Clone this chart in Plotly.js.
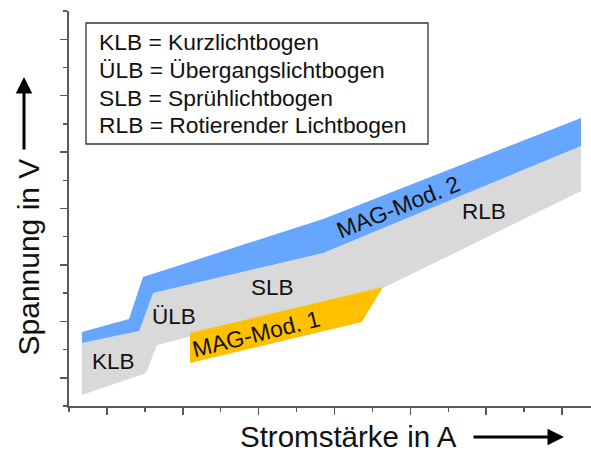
<!DOCTYPE html>
<html>
<head>
<meta charset="utf-8">
<script src="https://cdn.plot.ly/plotly-3.0.1.min.js"></script>
<style>
  html, body { margin: 0; padding: 0; background: #fff; }
  #chart { width: 591px; height: 453px; }
</style>
</head>
<body>
<div id="chart"></div>
<script>
// ---- Data (schematic regions in axis units) ----
// Grey band: all arc types (KLB, ÜLB, SLB, RLB)
const greyX = [0.34, 1.85, 2.22, 6.70, 13.50, 13.50, 8.28, 2.32, 2.03, 0.34];
const greyY = [2.23, 2.66, 4.01, 5.42, 9.22, 7.62, 4.18, 2.16, 1.17, 0.39];
// Blue band: MAG-Mod. 2
const blueX = [0.34, 1.58, 1.95, 6.70, 13.50, 13.50, 6.70, 2.22, 1.85, 0.34];
const blueY = [2.62, 3.08, 4.57, 6.63, 10.21, 9.22, 5.42, 4.01, 2.66, 2.23];
// Orange band: MAG-Mod. 1
const orangeX = [3.19, 8.28, 7.72, 3.19];
const orangeY = [2.59, 4.22, 2.98, 1.52];

const regionLabels = ['KLB', 'ÜLB', 'SLB', 'RLB'];
const modLabels = ['MAG-Mod. 1', 'MAG-Mod. 2'];
const legendLines = ['KLB = Kurzlichtbogen', 'ÜLB = Übergangslichtbogen',
                     'SLB = Sprühlichtbogen', 'RLB = Rotierender Lichtbogen'];
const xTitle = 'Stromstärke in A';
const yTitle = 'Spannung in V';

// ---- Layout geometry ----
const W = 591, H = 453;
const M = {l: 69, r: 0, t: 11, b: 47};
const PW = W - M.l - M.r, PH = H - M.t - M.b;
const px = x => (x - M.l) / PW;          // pixel -> paper x
const py = y => (H - M.b - y) / PH;      // pixel -> paper y

const FONT = 'Liberation Sans, Arial, Helvetica, sans-serif';
const axisColor = '#595959';

const traces = [
  {x: greyX, y: greyY, mode: 'lines', fill: 'toself', fillcolor: '#d9d9d9',
   line: {width: 0, color: '#d9d9d9'}, hoverinfo: 'skip'},
  {x: blueX, y: blueY, mode: 'lines', fill: 'toself', fillcolor: '#66a6ff',
   line: {width: 0, color: '#66a6ff'}, hoverinfo: 'skip'},
  {x: orangeX, y: orangeY, mode: 'lines', fill: 'toself', fillcolor: '#ffc000',
   line: {width: 0, color: '#ffc000'}, hoverinfo: 'skip'}
];

const ann = [];
// region labels
const regionPos = [[113.5, 361.5], [174, 316], [272, 287], [484, 211.5]];
regionLabels.forEach((t, i) => ann.push({
  text: t, xref: 'paper', yref: 'paper', x: px(regionPos[i][0]), y: py(regionPos[i][1]),
  xanchor: 'center', yanchor: 'middle', showarrow: false,
  font: {family: FONT, size: 22.5, color: '#111'}
}));
// rotated MAG labels
const modPos = [[256, 334], [398, 207]];
const modAng = [-14, -22];
modLabels.forEach((t, i) => ann.push({
  text: t, xref: 'paper', yref: 'paper', x: px(modPos[i][0]), y: py(modPos[i][1]),
  xanchor: 'center', yanchor: 'middle', showarrow: false, textangle: modAng[i],
  font: {family: FONT, size: 23, color: '#111'}
}));
// legend lines
const legY = [42, 70, 98, 125];
legendLines.forEach((t, i) => ann.push({
  text: t, xref: 'paper', yref: 'paper', x: px(97), y: py(legY[i]),
  xanchor: 'left', yanchor: 'middle', showarrow: false,
  font: {family: FONT, size: 22.8, color: '#111'}
}));
// axis titles
ann.push({text: xTitle, xref: 'paper', yref: 'paper', x: px(348), y: py(436.5),
  xanchor: 'center', yanchor: 'middle', showarrow: false,
  font: {family: FONT, size: 29.5, color: '#111'}});
ann.push({text: yTitle, xref: 'paper', yref: 'paper', x: px(28), y: py(257.5),
  xanchor: 'center', yanchor: 'middle', showarrow: false, textangle: -90,
  font: {family: FONT, size: 30, color: '#111'}});
// arrows
ann.push({text: '', xref: 'paper', yref: 'paper', x: px(564), y: py(437),
  ax: -92, ay: 0, showarrow: true, arrowhead: 2, arrowsize: 1.1, arrowwidth: 3,
  arrowcolor: '#000', standoff: 0});
ann.push({text: '', xref: 'paper', yref: 'paper', x: px(24), y: py(77),
  ax: 0, ay: 74, showarrow: true, arrowhead: 2, arrowsize: 1.1, arrowwidth: 3,
  arrowcolor: '#000', standoff: 0});

const axisCommon = {
  showgrid: false, zeroline: false, showticklabels: false,
  showline: true, linecolor: axisColor, linewidth: 2,
  ticks: 'outside', ticklen: 7, tickwidth: 1.5, tickcolor: axisColor,
  tickmode: 'linear', tick0: 1, dtick: 2,
  minor: {ticks: 'outside', ticklen: 4, tickwidth: 1.5, tickcolor: axisColor, dtick: 1, tick0: 0},
  fixedrange: true
};

const layout = {
  width: W, height: H,
  margin: M,
  paper_bgcolor: '#fff', plot_bgcolor: '#fff',
  showlegend: false, hovermode: false,
  xaxis: Object.assign({}, axisCommon, {range: [0, PW / 37.93]}),
  yaxis: Object.assign({}, axisCommon, {range: [0, PH / 28.21]}),
  shapes: [{
    type: 'rect', xref: 'paper', yref: 'paper',
    x0: px(86), x1: px(428), y0: py(144), y1: py(23),
    line: {color: '#333', width: 1.3}, fillcolor: 'rgba(0,0,0,0)'
  }],
  annotations: ann
};

Plotly.newPlot('chart', traces, layout, {displayModeBar: false, staticPlot: true});
</script>
</body>
</html>
